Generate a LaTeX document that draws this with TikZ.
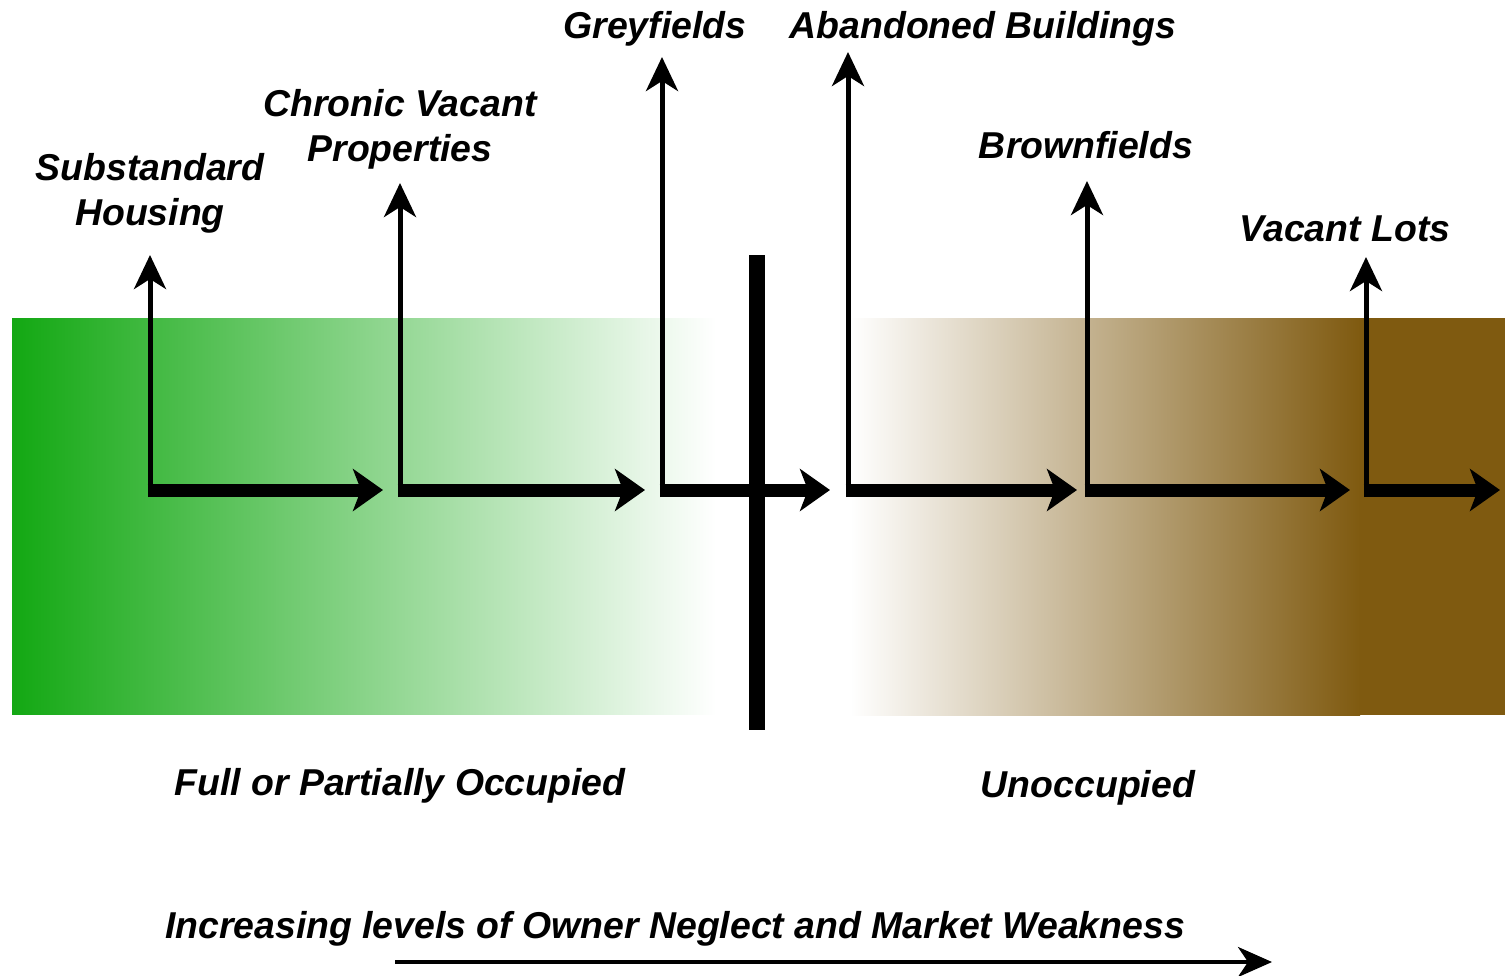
\documentclass[tikz,border=0pt]{standalone}
\usepackage{fontspec}
\setmainfont{Liberation Sans}
\usetikzlibrary{arrows.meta}
\definecolor{grassgreen}{HTML}{13A813}
\definecolor{soilbrown}{HTML}{7F5A10}

\begin{document}
\begin{tikzpicture}[x=0.5pt,y=-0.5pt,line join=miter,
		lbl/.style={font=\fontsize{18.7}{22.5}\selectfont\bfseries\itshape,align=center,inner sep=0pt},
		upline/.style={line width=2.5pt,-{Stealth[length=17pt,width=16pt,inset=5pt]}},
		stepline/.style={line width=6.5pt,-{Stealth[length=15pt,width=21pt,inset=4pt]}},
		axisline/.style={line width=2pt,-{Stealth[length=17pt,width=15pt,inset=5pt]}}]
		\useasboundingbox (0,0) rectangle (1505,975);
		% background bands
		\shade [left color=grassgreen,right color=white] (12,318) rectangle (716,714);
		\shade [left color=white,right color=soilbrown] (850,318) rectangle (1360,715);
		\fill [soilbrown] (1359,318) rectangle (1505,715);
		\draw [line width=8pt] (757,255)-- (757,730);
		% corners and tips
		\coordinate (c1) at (150,490);
		\coordinate (c2) at (400,490);
		\coordinate (c3) at (662,490);
		\coordinate (c4) at (848,490);
		\coordinate (c5) at (1087,490);
		\coordinate (c6) at (1366,490);
		\coordinate (t1) at (150,255);
		\coordinate (t2) at (400,183);
		\coordinate (t3) at (662,57);
		\coordinate (t4) at (848,52);
		\coordinate (t5) at (1087,181);
		\coordinate (t6) at (1366,257);
		\coordinate (h1) at (383,490);
		\coordinate (h2) at (645,490);
		\coordinate (h3) at (830,490);
		\coordinate (h4) at (1077,490);
		\coordinate (h5) at (1350,490);
		\coordinate (h6) at (1500,490);
		\draw [upline] ([yshift=-3.5pt]c1)-- (t1);
		\draw [upline] ([yshift=-3.5pt]c2)-- (t2);
		\draw [upline] ([yshift=-3.5pt]c3)-- (t3);
		\draw [upline] ([yshift=-3.5pt]c4)-- (t4);
		\draw [upline] ([yshift=-3.5pt]c5)-- (t5);
		\draw [upline] ([yshift=-3.5pt]c6)-- (t6);
		\draw [stepline] ([xshift=-1.25pt]c1)-- (h1);
		\draw [stepline] ([xshift=-1.25pt]c2)-- (h2);
		\draw [stepline] ([xshift=-1.25pt]c3)-- (h3);
		\draw [stepline] ([xshift=-1.25pt]c4)-- (h4);
		\draw [stepline] ([xshift=-1.25pt]c5)-- (h5);
		\draw [stepline] ([xshift=-1.25pt]c6)-- (h6);
		% labels
		\node [lbl] (subst) at (150,193) {Substandard\\Housing};
		\node [lbl] (chronic) at (400,129) {Chronic Vacant\\Properties};
		\node [lbl] (grey) at (655,29) {Greyfields};
		\node [lbl] (aband) at (983,29) {Abandoned Buildings};
		\node [lbl] (brown) at (1086,145) {Brownfields};
		\node [lbl] (lots) at (1345,229) {Vacant Lots};
		\node [lbl] (occ) at (400,786) {Full or Partially Occupied};
		\node [lbl] (unocc) at (1088,788) {Unoccupied};
		\node [lbl] (neglect) at (675,929) {Increasing levels of Owner Neglect and Market Weakness};
		\coordinate (a0) at (395,962);
		\coordinate (a1) at (1272,962);
		\draw [axisline] (a0)-- (a1);
	\end{tikzpicture}
\end{document}
